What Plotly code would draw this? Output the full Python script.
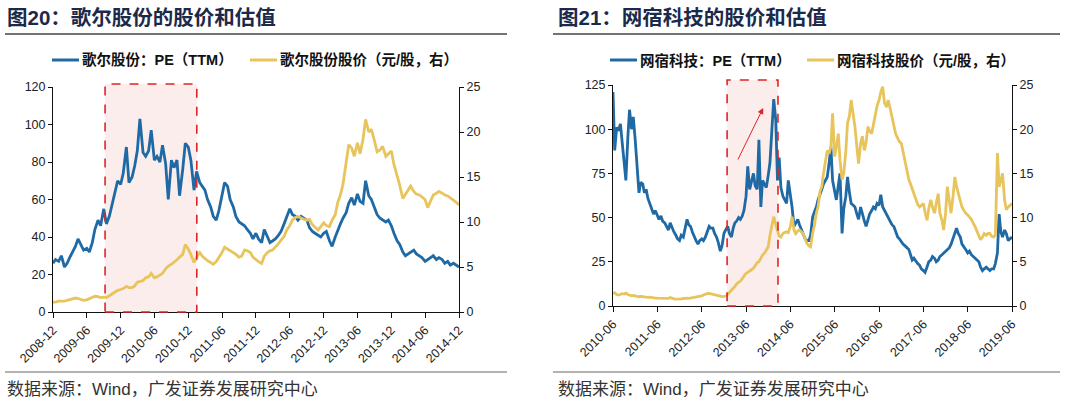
import pandas as pd
import plotly.graph_objects as go

# --- Data: Goertek (歌尔股份), semi-monthly samples ---
goer_pe = [
    26, 28, 27, 30, 24, 26, 29, 32, 35, 39,
    36, 33, 34, 32, 37, 44, 49, 46, 55, 47,
    51, 57, 65, 70, 68, 74, 88, 69, 72, 78,
    86, 103, 85, 83, 86, 97, 81, 83, 80, 89,
    79, 60, 81, 77, 81, 62, 76, 90, 88, 81,
    65, 75, 69, 67, 65, 60, 56, 51, 49, 54,
    62, 69, 67, 60, 56, 51, 48, 47, 46, 44,
    42, 39, 42, 39, 37, 44, 40, 37, 38, 39,
    41, 43, 47, 51, 55, 52, 51, 49, 51, 50,
    49, 45, 43, 42, 41, 40, 42, 43, 38, 35,
    40, 44, 47, 50, 53, 58, 61, 57, 63, 59,
    58, 70, 62, 60, 55, 52, 50, 49, 48, 49,
    46, 42, 38, 36, 32, 30, 31, 32, 33, 31,
    30, 29, 27, 28, 29, 30, 28, 29, 28, 26,
    27, 25, 26, 25, 24,
]
goer_price = [
    1.1, 1.1, 1.2, 1.2, 1.2, 1.3, 1.4, 1.5, 1.55, 1.5,
    1.4, 1.3, 1.35, 1.5, 1.6, 1.75, 1.7, 1.6, 1.65, 1.6,
    1.8, 2.0, 2.2, 2.4, 2.5, 2.6, 2.85, 2.7, 2.7, 2.9,
    3.3, 3.4, 3.5, 3.8, 3.9, 4.3, 3.8, 3.9, 4.1, 4.3,
    4.8, 5.1, 5.3, 5.5, 5.8, 6.1, 6.4, 7.5, 7.0, 6.4,
    5.5, 6.1, 6.6, 6.2, 5.9, 5.7, 5.5, 5.3, 5.6, 6.0,
    6.6, 7.2, 7.0, 6.9, 6.6, 6.4, 6.1, 6.2, 6.9, 6.8,
    6.6, 6.1, 5.8, 5.6, 5.4, 6.2, 6.6, 6.8, 6.9, 7.2,
    7.6, 8.0, 8.4, 9.1, 9.6, 10.2, 10.5, 10.6, 10.4, 10.3,
    10.2, 10.3, 9.7, 9.4, 9.1, 9.5, 9.9, 9.6, 9.5, 10.2,
    10.8, 12.2, 13.0, 14.2, 16.5, 18.6, 18.2, 17.3, 18.8, 17.6,
    19.2, 21.4, 20.0, 20.3, 19.0, 17.8, 18.0, 18.4, 17.3, 17.6,
    17.9, 16.4, 15.2, 14.1, 12.6, 13.1, 13.5, 14.0, 13.4, 13.1,
    13.0, 12.8, 12.5, 11.6, 12.4, 13.0, 13.2, 13.4, 13.2, 13.0,
    12.9, 12.7, 12.5, 12.2, 11.9,
]
goer_dates = pd.date_range("2008-12-01", periods=len(goer_pe), freq="SMS")
goer_box = ["2009-09-08", "2011-01-16"]

# --- Data: Wangsu (网宿科技) ---
ws_pe = [
    121, 88, 101, 99, 103, 92, 80, 71, 95, 111,
    100, 107, 94, 80, 64, 70, 69, 64, 66, 61,
    58, 55, 52, 54, 51, 49, 51, 48, 47, 45,
    43, 47, 44, 42, 40, 38, 37, 40, 39, 44,
    49, 46, 45, 42, 39, 37, 35, 37, 38, 37,
    39, 42, 45, 44, 44, 41, 39, 36, 31, 34,
    41, 43, 45, 41, 39, 44, 47, 48, 50, 49,
    51, 54, 62, 79, 66, 70, 75, 68, 66, 94,
    56, 71, 69, 67, 74, 81, 101, 117, 105, 71,
    84, 67, 62, 60, 58, 71, 64, 56, 45, 47,
    49, 46, 43, 41, 38, 37, 37, 40, 50, 53,
    56, 60, 64, 66, 69, 71, 73, 80, 90, 71,
    65, 60, 68, 75, 41, 55, 62, 73, 64, 58,
    57, 56, 52, 49, 56, 52, 48, 45, 49, 52,
    54, 56, 55, 58, 57, 63, 56, 54, 52, 50,
    48, 46, 45, 42, 39, 38, 36, 35, 34, 33,
    32, 29, 26, 27, 25, 24, 23, 21, 20, 19,
    22, 25, 26, 28, 27, 25, 26, 28, 29, 30,
    31, 32, 33, 35, 38, 41, 44, 41, 39, 35,
    33, 32, 30, 31, 29, 28, 27, 26, 25, 22,
    20, 21, 22, 21, 20, 21, 21, 24, 30, 52,
    42, 39, 43, 41, 37, 38, 39,
]
ws_price = [
    1.4, 1.5, 1.3, 1.25, 1.3, 1.4, 1.35, 1.45, 1.3, 1.2,
    1.15, 1.2, 1.1, 1.1, 1.05, 1.1, 1.05, 1.0, 1.0, 0.98,
    1.0, 0.95, 0.95, 0.9, 0.88, 0.87, 0.9, 0.85, 0.88, 0.9,
    0.87, 0.95, 0.85, 0.8, 0.78, 0.76, 0.75, 0.8, 0.85, 0.9,
    0.88, 0.87, 0.9, 0.95, 0.98, 1.0, 1.05, 1.06, 1.15, 1.25,
    1.35, 1.4, 1.43, 1.38, 1.3, 1.25, 1.24, 1.15, 1.1, 1.06,
    1.08, 1.13, 1.3, 1.55, 1.8, 2.0, 2.2, 2.5, 2.7, 2.8,
    3.1, 3.4, 3.7, 3.8, 4.0, 4.1, 4.26, 4.5, 4.9, 5.0,
    5.4, 5.77, 6.0, 6.4, 6.7, 8.0, 9.35, 10.1, 9.2, 8.6,
    7.9, 7.8, 8.2, 8.3, 8.4, 8.3, 9.0, 10.1, 8.6, 8.2,
    8.5, 8.6, 8.4, 8.2, 7.6, 7.1, 6.8, 6.7, 8.2, 9.0,
    10.5, 11.2, 13.0, 13.5, 15.0, 16.4, 17.6, 17.2, 18.0, 21.8,
    16.9, 18.0, 19.5, 16.5, 14.3, 15.0, 17.5, 20.7, 21.5, 23.3,
    21.8, 20.3, 18.0, 16.1, 18.4, 19.2, 17.6, 18.5, 20.3, 19.8,
    19.5, 20.5, 21.4, 22.6, 23.3, 24.2, 24.8, 23.0, 22.5, 23.3,
    22.3, 21.4, 20.3, 19.5, 19.0, 18.6, 18.4, 17.4, 16.5, 15.5,
    14.3, 13.8, 13.2, 12.7, 12.0, 11.5, 11.2, 11.4, 11.6, 10.6,
    9.7, 11.0, 12.0, 11.2, 10.5, 11.6, 12.7, 10.5, 9.7, 8.6,
    10.5, 13.5, 12.0, 10.5, 12.5, 14.6, 13.5, 12.7, 11.8, 11.2,
    10.8, 10.5, 10.3, 10.1, 9.8, 9.4, 9.0, 8.5, 8.0, 7.5,
    7.8, 8.2, 8.0, 8.2, 8.2, 7.9, 7.8, 8.0, 17.3, 13.5,
    14.2, 15.0, 12.0, 10.9, 11.2, 11.4, 11.6,
]
ws_dates = pd.date_range("2010-06-01", periods=len(ws_pe), freq="SMS")
ws_box = ["2012-12-27", "2014-02-19"]

BLUE = "#1f6aa5"
GOLD = "#e8c45c"
W, H = 1080, 401
NUM_FONT = dict(family="Liberation Sans, Arial", size=12.5, color="#222")
CJK = "Noto Sans CJK SC"


def px(x):
    return x / W


def py(y):
    return 1 - y / H


fig = go.Figure()

# left chart
fig.add_trace(go.Scatter(x=goer_dates, y=goer_pe, mode="lines", line=dict(color=BLUE, width=2.8),
                         xaxis="x", yaxis="y", showlegend=False))
fig.add_trace(go.Scatter(x=goer_dates, y=goer_price, mode="lines", line=dict(color=GOLD, width=2.8),
                         xaxis="x", yaxis="y2", showlegend=False))
# right chart
fig.add_trace(go.Scatter(x=ws_dates, y=ws_pe, mode="lines", line=dict(color=BLUE, width=2.8),
                         xaxis="x2", yaxis="y3", showlegend=False))
fig.add_trace(go.Scatter(x=ws_dates, y=ws_price, mode="lines", line=dict(color=GOLD, width=2.8),
                         xaxis="x2", yaxis="y4", showlegend=False))

axis_common = dict(showgrid=False, zeroline=False, showline=True, linecolor="#111", linewidth=1,
                   ticks="outside", tickcolor="#111", tickfont=NUM_FONT, automargin=False)

fig.update_layout(
    width=W, height=H,
    margin=dict(l=0, r=0, t=0, b=0),
    paper_bgcolor="white", plot_bgcolor="white",
    xaxis=dict(domain=[px(53), px(459)], anchor="y", type="date",
               range=[goer_dates[0], goer_dates[-1]], tick0="2008-12-01", dtick="M6",
               tickformat="%Y-%m", tickangle=-45, ticklen=5, **axis_common),
    yaxis=dict(domain=[py(312), py(87)], anchor="x", range=[0, 120], dtick=20, ticklen=4, **axis_common),
    yaxis2=dict(overlaying="y", anchor="x", side="right", range=[0, 25], dtick=5, ticklen=4, **axis_common),
    xaxis2=dict(domain=[px(613), px(1012)], anchor="y3", type="date",
                range=[ws_dates[0], ws_dates[-1]], tick0="2010-06-01", dtick="M12",
                tickformat="%Y-%m", tickangle=-45, ticklen=5, **axis_common),
    yaxis3=dict(domain=[py(306), py(85)], anchor="x2", range=[0, 125], dtick=25, ticklen=4, **axis_common),
    yaxis4=dict(overlaying="y3", anchor="x2", side="right", range=[0, 25], dtick=5, ticklen=4, **axis_common),
)

# highlight boxes: pink fill below the lines, dashed red frame on top
for xref, box, top, bottom in [("x", goer_box, 84, 312), ("x2", ws_box, 80, 306)]:
    fig.add_shape(type="rect", xref=xref, yref="paper", x0=box[0], x1=box[1], y0=py(bottom), y1=py(top),
                  fillcolor="rgba(248,215,215,0.45)", line=dict(width=0), layer="below")
    fig.add_shape(type="rect", xref=xref, yref="paper", x0=box[0], x1=box[1], y0=py(bottom), y1=py(top),
                  line=dict(color="#e02424", width=1.6, dash="dash"), layer="above")

# red arrow in the right chart
fig.add_annotation(x="2013-10-20", y=112, ax="2013-03-20", ay=82, xref="x2", yref="y3",
                   axref="x2", ayref="y3", showarrow=True, arrowhead=2, arrowsize=1.2,
                   arrowwidth=1, arrowcolor="#e02424", text="")

# titles, rules, legends, source notes
titles = [(5, "图20：歌尔股份的股价和估值"), (556, "图21：网宿科技的股价和估值")]
for x0, t in titles:
    fig.add_annotation(x=px(x0), y=py(18), xref="paper", yref="paper", xanchor="left", yanchor="middle",
                       showarrow=False, text="<b>" + t + "</b>",
                       font=dict(family="Liberation Sans, " + CJK, size=20.5, color="#1b2a4a"))

for x0, x1 in [(5, 507), (553, 1060)]:
    fig.add_shape(type="line", xref="paper", yref="paper", x0=px(x0), x1=px(x1), y0=py(34), y1=py(34),
                  line=dict(color="#444", width=1.5))
    fig.add_shape(type="line", xref="paper", yref="paper", x0=px(x0), x1=px(x1), y0=py(372), y1=py(372),
                  line=dict(color="#666", width=1.2))

legend_items = [
    (52, BLUE, "歌尔股份：PE（TTM）"),
    (250, GOLD, "歌尔股份股价（元/股，右）"),
    (610, BLUE, "网宿科技：PE（TTM）"),
    (807, GOLD, "网宿科技股价（元/股，右）"),
]
for x0, color, label in legend_items:
    fig.add_shape(type="line", xref="paper", yref="paper", x0=px(x0), x1=px(x0 + 27), y0=py(60), y1=py(60),
                  line=dict(color=color, width=3))
    fig.add_annotation(x=px(x0 + 28), y=py(60), xref="paper", yref="paper", xanchor="left", yanchor="middle",
                       showarrow=False, text="<b>" + label + "</b>",
                       font=dict(family="Liberation Sans, " + CJK, size=14.5, color="#111"))

for x0 in [5, 556]:
    fig.add_annotation(x=px(x0), y=py(389), xref="paper", yref="paper", xanchor="left", yanchor="middle",
                       showarrow=False, text="数据来源：Wind，广发证券发展研究中心",
                       font=dict(family="Liberation Sans, " + CJK, size=17, color="#333"))

# the page's default body margin would push the figure 8px off the window
fig.write_html("out.html", config={"displayModeBar": False},
               post_script="document.body.style.margin='0';document.body.style.overflow='hidden';")
